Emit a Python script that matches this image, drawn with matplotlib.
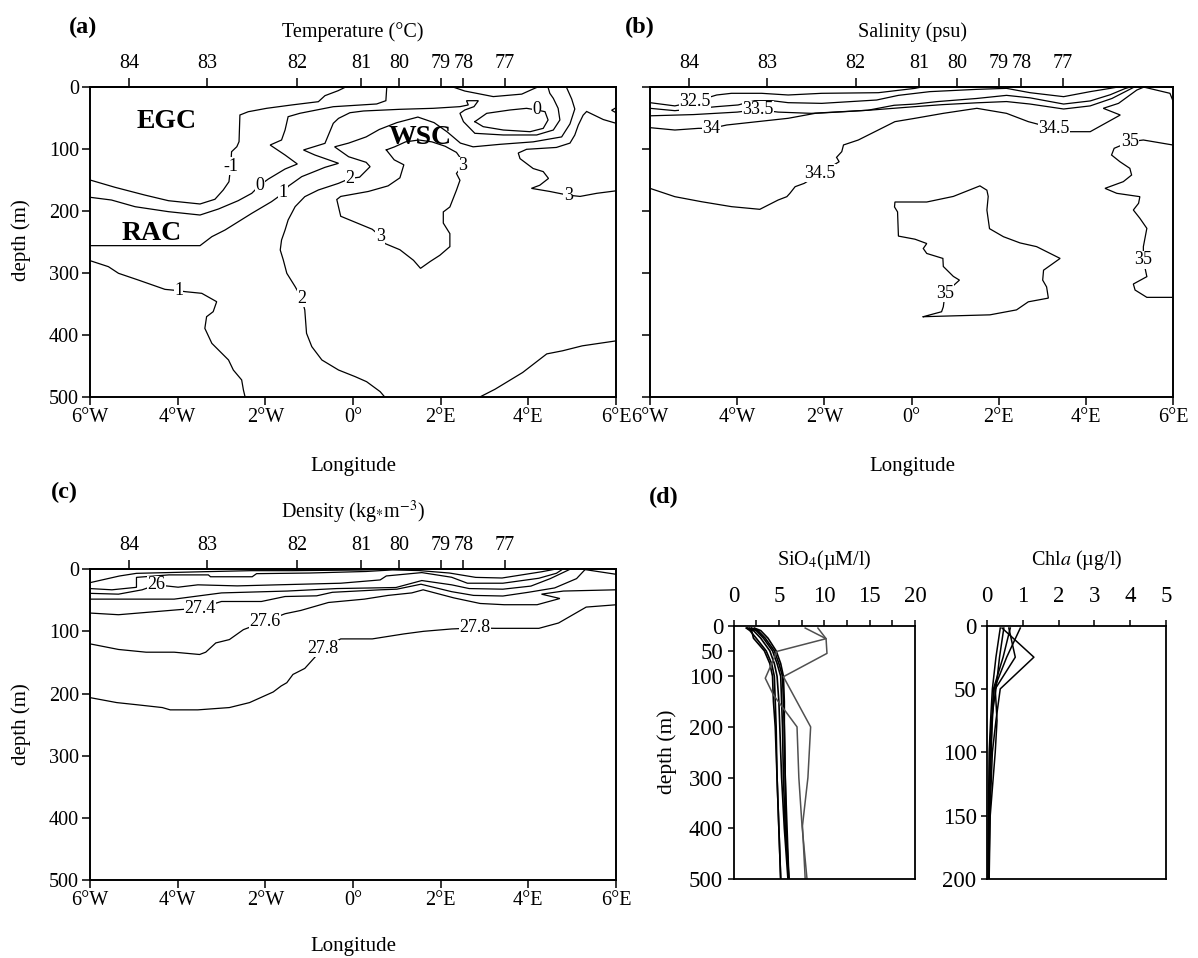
import matplotlib
matplotlib.use("Agg")
import matplotlib.pyplot as plt

plt.rcParams['font.family'] = ['Liberation Serif', 'DejaVu Serif']
plt.rcParams['mathtext.fontset'] = 'stix'

W, H = 1198, 958

# ---- shared axis data ----
lon_ticks = [-6, -4, -2, 0, 2, 4, 6]
lon_labels = ['6°W', '4°W', '2°W', '0°', '2°E', '4°E', '6°E']
lat_pos = [-5.1, -3.32, -1.28, 0.18, 1.05, 2.0, 2.52, 3.47]
lat_labels = ['84', '83', '82', '81', '80', '79', '78', '77']
depth_ticks = [0, 100, 200, 300, 400, 500]

# ---- (a) temperature contours: (lon, depth) ----
temp_m1_lon = [-6.0, -5.43, -4.75, -4.21, -3.49, -3.15, -2.96, -2.83, -2.79, -2.77, -2.65, -2.60, -2.58, -2.39, -1.97, -1.40, -0.79, -0.64, -0.34, -0.18]
temp_m1_dep = [149.5, 161.3, 173.8, 182.9, 188.2, 180.6, 165.6, 152.3, 127, 103.9, 95.8, 87.7, 44.7, 39.4, 33.9, 28.5, 23.2, 13.5, 5.5, 0]
temp_0_lon = [-6.0, -5.51, -4.97, -4.21, -3.49, -3.07, -2.62, -2.31, -2.12, -1.93, -1.55, -1.27, -1.55, -1.89, -1.63, -1.55, -1.48, -1.21, -0.91, -0.45, 0.54, 0.75, 0.77]
temp_0_dep = [177.4, 181.8, 192.6, 200.6, 206, 196.3, 182.9, 171, 157.6, 147.9, 131.8, 123.7, 109.2, 93.1, 85, 68.9, 47.4, 41.9, 37.7, 31.3, 26.9, 21.6, 0]
temp_1_lon = [-6.0, -3.49, -3.22, -2.92, -2.31, -1.86, -1.70, -1.59, -1.47, -1.17, -0.64, -0.33, -0.87, -1.13, -0.64, -0.45, -0.33, -0.07, 0.24, 1.07, 1.83, 2.44, 2.63, 2.59, 2.86, 2.76, 2.55, 2.44, 2.52, 2.78, 3.43, 4.19, 4.57, 4.72, 4.68, 4.57, 4.49, 4.45]
temp_1_dep = [255.4, 255.4, 240.9, 230.2, 203.3, 184.5, 176.4, 170, 159.2, 144.1, 129.1, 122.6, 109.2, 101.1, 90.4, 58.1, 50.1, 41, 38.2, 35.5, 33.9, 31.2, 28.5, 21.6, 21.6, 31.2, 36.6, 42, 55.4, 74.2, 76.9, 76.9, 68.9, 52.7, 33.9, 17.8, 9.7, 0]
temp_1b_lon = [-6.0, -5.58, -5.35, -4.90, -4.29, -3.98, -3.83, -3.45, -3.11, -3.19, -3.34, -3.38, -3.22, -2.84, -2.73, -2.54, -2.50, -2.46]
temp_1b_dep = [279.6, 289.3, 300, 310.8, 325.9, 328, 329.6, 332.3, 345.8, 361.9, 370, 388.8, 413, 439.8, 456, 472, 488.2, 500]
temp_lens_lon = [2.78, 3.05, 3.58, 3.96, 4.19, 4.38, 4.45, 4.34, 4.04, 3.43, 2.97, 2.78]
temp_lens_dep = [55.4, 42, 36.6, 33.9, 36.6, 39.3, 52.7, 66.2, 71.6, 68.9, 63.5, 55.4]
temp_dip_lon = [2.3, 2.55, 3.2, 3.85, 4.1, 4.2]
temp_dip_dep = [0, 6, 15, 11, 3, 0]
temp_2_lon = [0.73, 0.62, 0.31, 0.05, -0.33, -0.71, -0.94, -1.06, -1.10, -1.17, -1.32, -1.51, -1.59, -1.66, -1.63, -1.55, -1.48, -1.32, -1.10, -0.79, -0.33, -0.07, 0.15, 0.39, 0.30, -0.10, -0.42, -0.10, 0.30, 0.60, 1.00, 1.48, 1.85, 2.15, 2.45, 2.74, 3.35, 4.11, 4.76, 4.95, 5.06, 4.99, 4.87]
temp_2_dep = [500, 490.9, 474.8, 466.7, 456, 439.8, 418.3, 396.8, 359.2, 340.4, 321.5, 300, 278.5, 262.4, 246.3, 230.2, 214, 192.5, 176.4, 165.6, 154.9, 147, 145, 128, 121, 112, 96, 90, 80, 68, 57, 48, 57, 72, 90, 96, 92, 88, 80, 59, 35, 19, 0]
temp_3w_lon = [0.76, 0.95, 1.2, 1.5, 1.8, 2.1, 2.36, 2.44, 2.48, 2.36, 2.44, 2.36, 2.21, 2.06, 2.06, 2.21, 2.21, 1.98, 1.76, 1.54, 1.38, 1.07, 0.73, 0.62, 0.44, -0.28, -0.37, -0.28, 0.35, 0.80, 1.07, 1.16, 0.94, 0.76]
temp_3w_dep = [101, 96, 88, 85, 88, 95, 105, 113, 128, 139, 150, 166, 193, 201, 219, 236, 257, 271, 281, 292, 279, 262, 252, 240, 229, 208, 181, 176, 168, 159, 146, 125, 117, 101]
temp_3e_lon = [6.0, 5.71, 5.33, 5.25, 5.14, 5.06, 4.95, 4.64, 3.96, 3.77, 3.81, 4.11, 4.34, 4.46, 4.26, 4.07, 4.49, 4.91, 5.18, 5.56, 6.0]
temp_3e_dep = [58, 52, 39, 45, 61, 77, 90, 97, 100, 106, 115, 131, 136, 147, 158, 163, 168, 174, 176, 171, 167]
temp_notch_lon = [6.0, 5.9, 6.0]
temp_notch_dep = [33, 37, 41]
temp_br_lon = [2.88, 3.24, 3.87, 4.42, 4.78, 5.23, 6.0]
temp_br_dep = [500, 487, 460, 430, 425, 417, 409]
temp_lab_lon = [-2.79, -2.12, -1.59, -0.07, 2.50, 0.62, 4.91, 4.19, -3.98, -1.17]
temp_lab_dep = [127, 157.6, 170, 147, 126, 240, 174, 35, 328, 340.4]
temp_lab_txt = ['-1', '0', '1', '2', '3', '3', '3', '0', '1', '2']

# ---- (b) salinity contours ----
sal_325_lon = [-6.0, -5.43, -4.97, -4.47, -4.13, -3.44, -2.83, -2.06, -0.76, 0.08, 0.2]
sal_325_dep = [24.8, 30, 23, 12.4, 9.7, 9.7, 12.4, 9.7, 8.7, 1.7, 0]
sal_33_lon = [-6.0, -5.43, -4.47, -3.98, -3.6, -3.2, -2.83, -2.06, -0.8, -0.3, 0.42, 1.5, 2.18, 2.72, 3.49, 4.10, 4.56, 4.7]
sal_33_dep = [33.9, 37.7, 31.2, 28.5, 21.6, 21.6, 24.8, 25.9, 20.5, 13, 7, 3.3, 1.7, 8.7, 15.1, 7, 1.7, 0]
sal_335_lon = [-6.0, -5.0, -4.0, -3.52, -3.06, -2.3, -1.0, -0.4, 0.08, 0.6, 1.5, 2.18, 2.72, 3.49, 4.10, 4.56, 4.9, 5.0]
sal_335_dep = [46, 44, 40, 36, 40, 42, 37, 29, 27, 23, 18, 13, 17, 27, 22, 12, 2, 0]
sal_34_lon = [-6.0, -5.43, -4.89, -4.59, -4.24, -2.83, -2.21, -1.53, -0.91, 0.08, 0.7, 1.5, 2.18, 2.72, 3.49, 4.1, 4.6, 5.1]
sal_34_dep = [65.1, 68.9, 66.2, 66.2, 60.8, 50, 42, 39.3, 36.6, 31.2, 28, 25, 23, 27, 35, 30, 18, 0]
sal_345_lon = [-6.0, -5.43, -4.82, -4.13, -3.48, -3.06, -2.86, -2.79, -2.67, -2.46, -2.10, -1.66, -1.72, -1.60, -1.56, -1.22, -0.38, 0.08, 0.73, 1.50, 2.18, 2.68, 3.26, 3.64, 4.10, 4.79, 4.40, 4.75, 5.17, 5.32]
sal_345_dep = [163, 176.4, 184.5, 192.5, 196.8, 181.8, 176.4, 171, 160.3, 154.9, 138.8, 120, 113, 103.8, 93, 85, 55.4, 50, 42, 33.9, 42, 55.4, 66.2, 71.6, 71.6, 44.7, 33.9, 25.9, 4.4, 0]
sal_wedge_lon = [5.35, 5.93, 6.0]
sal_wedge_dep = [0, 9.7, 22]
sal_35r_lon = [6.0, 5.32, 5.01, 4.65, 4.59, 4.78, 5.01, 5.05, 4.86, 4.44, 4.71, 5.24, 5.21, 5.09, 5.24, 5.40, 5.32, 5.32, 5.40, 5.09, 5.13, 5.40, 6.0]
sal_35r_dep = [93.1, 85, 87.7, 98.4, 109.2, 119.9, 130.7, 141.5, 152.2, 163, 171, 176.4, 187.1, 197.9, 211.3, 227.5, 257, 278.5, 305.4, 317.3, 327, 338.8, 338.8]
sal_35m_lon = [0.27, 1.80, 2.41, 2.68, 3.14, 3.10, 3.01, 3.03, 3.41, 2.87, 2.49, 2.11, 1.79, 1.73, 1.76, 1.73, 1.57, 0.96, 0.35, -0.38, -0.39, -0.32, -0.30, 0.08, 0.35, 0.27, 0.35, 0.72, 0.73, 0.96, 1.10, 0.77, 0.73, 0.69, 0.27]
sal_35m_dep = [370, 367, 359, 346, 340, 322, 311, 295, 276, 257, 251, 241, 228, 198, 176, 166, 159, 176, 185, 185, 193, 201, 240, 245, 252, 260, 268, 276, 289, 305, 311, 332, 354, 362, 370]
sal_lab_lon = [-4.97, -3.52, -4.59, -2.10, 3.26, 5.01, 5.32, 0.77]
sal_lab_dep = [23.2, 36, 66.2, 138.8, 66.2, 87.7, 278.5, 332]
sal_lab_txt = ['32.5', '33.5', '34', '34.5', '34.5', '35', '35', '35']

# ---- (c) density contours ----
den_a_lon = [-6.0, -5.33, -4.94, -3.36, -2.33, -1.39, 0.19, 0.82]
den_a_dep = [21.5, 10.8, 6.5, 3.8, 2.2, 2.2, 1.1, 0]
den_b_lon = [-6.0, -5.5, -4.94, -4.94, -4.2, -3.3, -3.25, -2.3, -2.2, -1.0, 0.3, 0.9, 1.5, 2.2, 2.8, 3.4, 4.3, 4.6]
den_b_dep = [31, 33, 29, 13, 9, 9, 12, 12, 7, 6, 3.5, 1, 2, 6, 13, 14, 4, 0]
den_26_lon = [-6.0, -5.35, -4.81, -4.49, -3.99, -3.54, -2.64, -1.73, -0.28, 0.62, 0.76, 1.57, 2.25, 2.61, 3.42, 4.24, 4.64, 4.78]
den_26_dep = [38.7, 40, 33, 25, 28.8, 25, 26.7, 25, 22.4, 17.1, 10.7, 5.3, 12.8, 22.4, 22.4, 14.4, 6.4, 0]
den_x_lon = [-6.0, -4.08, -3.0, -1.5, -0.37, 0.98, 1.57, 2.25, 2.65, 3.42, 4.06, 4.5, 4.95]
den_x_dep = [48, 48, 38, 35, 31, 29.3, 18.1, 25, 31, 32, 27, 15, 0]
den_wedge_lon = [5.25, 6.0]
den_wedge_dep = [0, 8]
den_274_lon = [-6.0, -5.35, -3.99, -3.5, -3.0, -2.09, -1.55, -0.83, -0.47, 0.08, 0.62, 1.0, 1.55, 2.25, 2.75, 3.42, 4.0, 4.6, 5.1, 5.3]
den_274_dep = [70.4, 73.1, 65.1, 62.4, 51.8, 51.8, 43.8, 42.7, 37, 35, 33, 32, 24, 36, 42, 43, 37, 30, 15, 0]
den_276_lon = [-6.0, -5.35, -4.72, -4.08, -3.5, -3.36, -3.13, -2.82, -2.5, -2.0, -1.55, -1.19, -0.56, 0.26, 0.8, 1.34, 1.6, 2.3, 2.9, 3.45, 4.2, 4.72, 4.3, 4.8, 6.0]
den_276_dep = [120, 129, 133.4, 133.4, 137.1, 133.4, 118.5, 113.1, 97.1, 83.8, 71.5, 66.2, 53.4, 48, 42, 38, 33, 46, 55, 57, 57, 47, 40, 35, 33]
den_278_lon = [-6.0, -5.39, -4.90, -4.35, -4.17, -3.54, -2.82, -2.36, -1.82, -1.64, -1.51, -1.37, -1.10, -0.69, -0.28, 0.44, 1.16, 1.61, 2.25, 2.79, 3.24, 4.24, 4.69, 5.32, 6.0]
den_278_dep = [206.5, 214.5, 218.2, 222.5, 226.2, 226.2, 222.5, 214.5, 197.4, 187.8, 182.5, 169.2, 159.5, 127.5, 112, 112, 104, 99.8, 96, 94.4, 95, 95, 86.4, 60.8, 57.1]
den_lab_lon = [-4.49, -3.5, -2.0, -0.69, 2.79]
den_lab_dep = [25, 62.4, 83.8, 127.5, 94.4]
den_lab_txt = ['26', '27.4', '27.6', '27.8', '27.8']

# ---- (d) station profiles ----
sio_depth = [5, 10, 25, 50, 75, 100, 150, 200, 300, 400, 500]
sio_black = [
    [1.4, 1.8, 2.5, 3.6, 4.2, 4.5, 4.6, 4.7, 4.8, 5.0, 5.2],
    [1.6, 2.2, 3.0, 4.0, 4.5, 4.8, 5.0, 5.1, 5.3, 5.6, 6.0],
    [1.8, 2.5, 3.3, 4.3, 4.8, 5.2, 5.3, 5.4, 5.5, 5.7, 6.1],
    [2.0, 2.7, 3.5, 4.5, 5.0, 5.4, 5.5, 5.6, 5.7, 5.8, 6.1],
    [1.5, 2.0, 2.2, 3.4, 4.0, 4.3, 4.4, 4.6, 4.8, 5.0, 5.2],
    [2.3, 3.0, 3.8, 4.7, 5.2, 5.5, 5.6, 5.6, 5.7, 5.9, 6.1],
]
sio_gray_depth = [5, 26, 51, 104, 137, 200, 300, 395, 500]
sio_gray_a = [7.9, 10.2, 4.8, 3.5, 4.4, 7.0, 7.2, 7.55, 8.1]
sio_gray_b_depth = [5, 26, 55, 101, 200, 300, 395, 500]
sio_gray_b = [9.3, 10.2, 10.3, 5.5, 8.5, 8.2, 7.6, 7.9]

chl_depth = [2, 25, 50, 75, 100, 150, 200]
chl_profiles = [
    [0.42, 1.31, 0.37, 0.25, 0.15, 0.08, 0.05],
    [0.61, 0.79, 0.23, 0.28, 0.23, 0.09, 0.06],
    [0.93, 0.55, 0.20, 0.15, 0.10, 0.05, 0.04],
    [0.37, 0.25, 0.15, 0.10, 0.06, 0.04, 0.03],
    [0.47, 0.35, 0.25, 0.12, 0.08, 0.05, 0.05],
    [0.65, 0.45, 0.18, 0.14, 0.12, 0.06, 0.04],
]

fig = plt.figure(figsize=(W / 100, H / 100), dpi=100)


def box(l, t, r, b):
    return [l / W, 1 - b / H, (r - l) / W, (b - t) / H]


def ftext(x, y, s, **kw):
    fig.text(x / W, 1 - y / H, s, ha='center', va='center', **kw)


def section(rect, lines, labels, depth_labels=True):
    ax = fig.add_axes(rect)
    for lon, dep in lines:
        ax.plot(lon, dep, color='black', lw=0.9, solid_joinstyle='miter')
    for x, y, s in zip(*labels):
        ax.text(x, y, s, fontsize=13, ha='center', va='center', zorder=5,
                bbox=dict(fc='white', ec='none', pad=0.3))
    ax.set_xlim(-6, 6)
    ax.set_ylim(500, 0)
    ax.set_xticks(lon_ticks, labels=lon_labels)
    ax.set_yticks(depth_ticks, labels=depth_ticks if depth_labels else [])
    ax.tick_params(direction='out', length=6, width=1.1, pad=2, labelsize=14.5)
    for sp in ax.spines.values():
        sp.set_linewidth(1.4)
    top = ax.secondary_xaxis('top')
    top.set_xticks(lat_pos, labels=lat_labels)
    top.tick_params(direction='out', length=6.5, width=1.1, pad=4, labelsize=14.5)
    top.spines['top'].set_linewidth(1.4)
    return ax


# (a) temperature
section(box(90, 87.3, 616, 397.3),
        [(temp_m1_lon, temp_m1_dep), (temp_0_lon, temp_0_dep), (temp_1_lon, temp_1_dep),
         (temp_1b_lon, temp_1b_dep), (temp_lens_lon, temp_lens_dep), (temp_dip_lon, temp_dip_dep),
         (temp_2_lon, temp_2_dep), (temp_3w_lon, temp_3w_dep), (temp_3e_lon, temp_3e_dep),
         (temp_notch_lon, temp_notch_dep), (temp_br_lon, temp_br_dep)],
        (temp_lab_lon, temp_lab_dep, temp_lab_txt))
ftext(167, 122, 'EGC', fontsize=20, fontweight='bold')
ftext(152, 233, 'RAC', fontsize=20, fontweight='bold')
ftext(420, 137, 'WSC', fontsize=20, fontweight='bold')

# (b) salinity
section(box(650, 87.3, 1173, 397.3),
        [(sal_325_lon, sal_325_dep), (sal_33_lon, sal_33_dep), (sal_335_lon, sal_335_dep),
         (sal_34_lon, sal_34_dep), (sal_345_lon, sal_345_dep), (sal_wedge_lon, sal_wedge_dep),
         (sal_35r_lon, sal_35r_dep), (sal_35m_lon, sal_35m_dep)],
        (sal_lab_lon, sal_lab_dep, sal_lab_txt), depth_labels=False)

# (c) density
section(box(90, 569.3, 616, 880),
        [(den_a_lon, den_a_dep), (den_b_lon, den_b_dep), (den_26_lon, den_26_dep),
         (den_x_lon, den_x_dep), (den_wedge_lon, den_wedge_dep), (den_274_lon, den_274_dep),
         (den_276_lon, den_276_dep), (den_278_lon, den_278_dep)],
        (den_lab_lon, den_lab_dep, den_lab_txt))

# (d) profiles
ax_si = fig.add_axes(box(733.5, 625.5, 915, 879))
for prof in sio_black:
    ax_si.plot(prof, sio_depth, color='black', lw=1.2)
ax_si.plot(sio_gray_a, sio_gray_depth, color='#505050', lw=1.1)
ax_si.plot(sio_gray_b, sio_gray_b_depth, color='#505050', lw=1.1)
ax_si.set_xlim(0, 20)
ax_si.set_ylim(500, 0)
ax_si.xaxis.tick_top()
ax_si.set_xticks([0, 2.5, 5, 7.5, 10, 12.5, 15, 17.5, 20],
                 labels=['0', '', '5', '', '10', '', '15', '', '20'])
ax_si.set_yticks([0, 50, 100, 200, 300, 400, 500])

ax_ch = fig.add_axes(box(987, 625.5, 1166, 879))
for prof in chl_profiles:
    ax_ch.plot(prof, chl_depth, color='black', lw=1.1)
ax_ch.set_xlim(0, 5)
ax_ch.set_ylim(200, 0)
ax_ch.xaxis.tick_top()
ax_ch.set_xticks([0, 1, 2, 3, 4, 5])
ax_ch.set_yticks([0, 50, 100, 150, 200])

for ax in (ax_si, ax_ch):
    ax.tick_params(axis='x', direction='out', length=4.5, width=1.1, pad=9, labelsize=16.5)
    ax.tick_params(axis='y', direction='out', length=4.5, width=1.1, pad=3, labelsize=16.5)
    for sp in ax.spines.values():
        sp.set_linewidth(1.3)

# panel letters and titles
ftext(83, 27, '(a)', fontsize=17.5, fontweight='bold')
ftext(640, 27, '(b)', fontsize=17.5, fontweight='bold')
ftext(64, 492, '(c)', fontsize=17.5, fontweight='bold')
ftext(664, 497, '(d)', fontsize=17.5, fontweight='bold')
ftext(353, 32, 'Temperature (°C)', fontsize=14.5)
ftext(912, 32, 'Salinity (psu)', fontsize=14.5)
ftext(353, 512, r'Density (kg$_{*}$m$^{-3}$)', fontsize=14.5)
ftext(824, 560, r'SiO$_{4}$(µM/l)', fontsize=14.5)
ftext(1077, 560, r'Chl$\mathit{a}$ (µg/l)', fontsize=14.5)
ftext(353, 466, 'Longitude', fontsize=15)
ftext(912, 466, 'Longitude', fontsize=15)
ftext(353, 947, 'Longitude', fontsize=15)
ftext(21, 240, 'depth (m)', fontsize=15, rotation=90)
ftext(21, 724, 'depth (m)', fontsize=15, rotation=90)
ftext(667, 752, 'depth (m)', fontsize=15.5, rotation=90)

fig.savefig('out.png', dpi=100)
